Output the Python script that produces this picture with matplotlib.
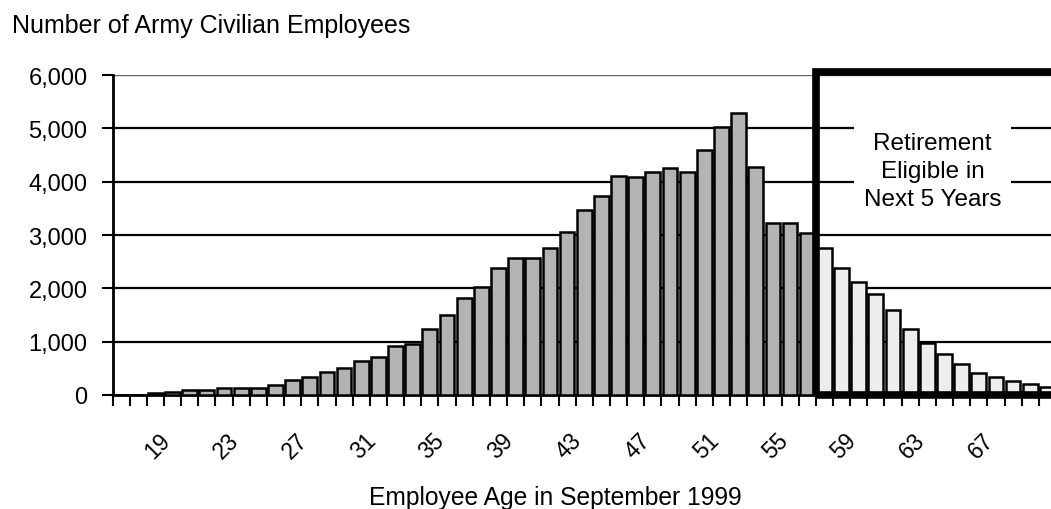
import matplotlib
matplotlib.use('Agg')
import matplotlib.pyplot as plt
import numpy as np
from matplotlib.patches import Rectangle
from matplotlib.ticker import FixedLocator
from matplotlib.transforms import ScaledTranslation

# ---- data ----
ages = list(range(16, 71))
employees = [0, 0, 40, 50, 90, 95, 130, 130, 125, 180,
             290, 340, 440, 510, 630, 720, 920, 960, 1230, 1500,
             1820, 2020, 2380, 2560, 2560, 2760, 3060, 3470, 3740, 4100,
             4080, 4180, 4260, 4190, 4600, 5030, 5280, 4270, 3220, 3230,
             3040, 2750, 2380, 2120, 1900, 1600, 1230, 980, 760, 580,
             420, 330, 260, 210, 150]
label_ages = list(range(19, 68, 4))
eligible_from = 57
ytick_vals = [0, 1000, 2000, 3000, 4000, 5000, 6000]
ytick_labels = ['0', '1,000', '2,000', '3,000', '4,000', '5,000', '6,000']
title = 'Number of Army Civilian Employees'
xlabel = 'Employee Age in September 1999'
box_text = 'Retirement\nEligible in\nNext 5 Years'

plt.rcParams['font.family'] = ['Liberation Sans', 'DejaVu Sans']

W, H = 1051, 510
fig = plt.figure(figsize=(W / 100, H / 100), dpi=100)
ax_left = 112.5 / W
ax_bottom = (H - 396) / H
ax_height = (396 - 76) / H
ax = fig.add_axes([ax_left, ax_bottom, 1 - ax_left, ax_height])

x = np.arange(len(ages))
colors = ['#b3b3b3' if a < eligible_from else '#ededed' for a in ages]
ax.bar(x, employees, width=0.86, color=colors, edgecolor='black',
       linewidth=1.8, zorder=3)

for v in ytick_vals[1:-1]:
    ax.axhline(v, color='black', lw=1.6, zorder=1)
ax.axhline(ytick_vals[-1], color='#666666', lw=1.0, zorder=1)

ax.set_xlim(-0.5, 54.21)
ax.set_ylim(0, 6000)

for s in ['top', 'right']:
    ax.spines[s].set_visible(False)
ax.spines['left'].set_linewidth(2)
ax.spines['bottom'].set_linewidth(2)

# y ticks
ax.set_yticks(ytick_vals)
ax.set_yticklabels(ytick_labels)
ax.tick_params(axis='y', length=8, width=1.5, pad=10, labelsize=17,
               direction='out')

# x ticks: boundaries as minor ticks, labels at every 4th age
ax.xaxis.set_minor_locator(FixedLocator(np.arange(-0.5, len(ages) + 0.5, 1)))
ax.xaxis.set_major_locator(FixedLocator([a - ages[0] for a in label_ages]))
ax.set_xticklabels([str(a) for a in label_ages])
ax.tick_params(axis='x', which='minor', length=8, width=1.5, direction='out')
ax.tick_params(axis='x', which='major', length=0, pad=30, labelsize=16.5)
offset = ScaledTranslation(-6 / 100, 0, fig.dpi_scale_trans)
for lbl in ax.get_xticklabels():
    lbl.set_rotation(45)
    lbl.set_ha('right')
    lbl.set_va('center')
    lbl.set_rotation_mode('anchor')
    lbl.set_transform(lbl.get_transform() + offset)

# retirement-eligible box
start = ages.index(eligible_from) - 0.5
ax.add_patch(Rectangle((start, 0), 30, 6050, fill=False, edgecolor='black',
                       lw=5.5, clip_on=False, zorder=6))
ax.text(47.3, 4200, box_text, ha='center', va='center', fontsize=17.5,
        linespacing=1.35, zorder=5,
        bbox=dict(facecolor='white', edgecolor='none',
                  boxstyle='square,pad=0.4'))

fig.text(12 / W, 1 - 33 / H, title, fontsize=18, ha='left', va='baseline')
fig.text(555 / W, 1 - 505 / H, xlabel, fontsize=17.7, ha='center',
         va='baseline')

fig.savefig('out.png', dpi=100)
